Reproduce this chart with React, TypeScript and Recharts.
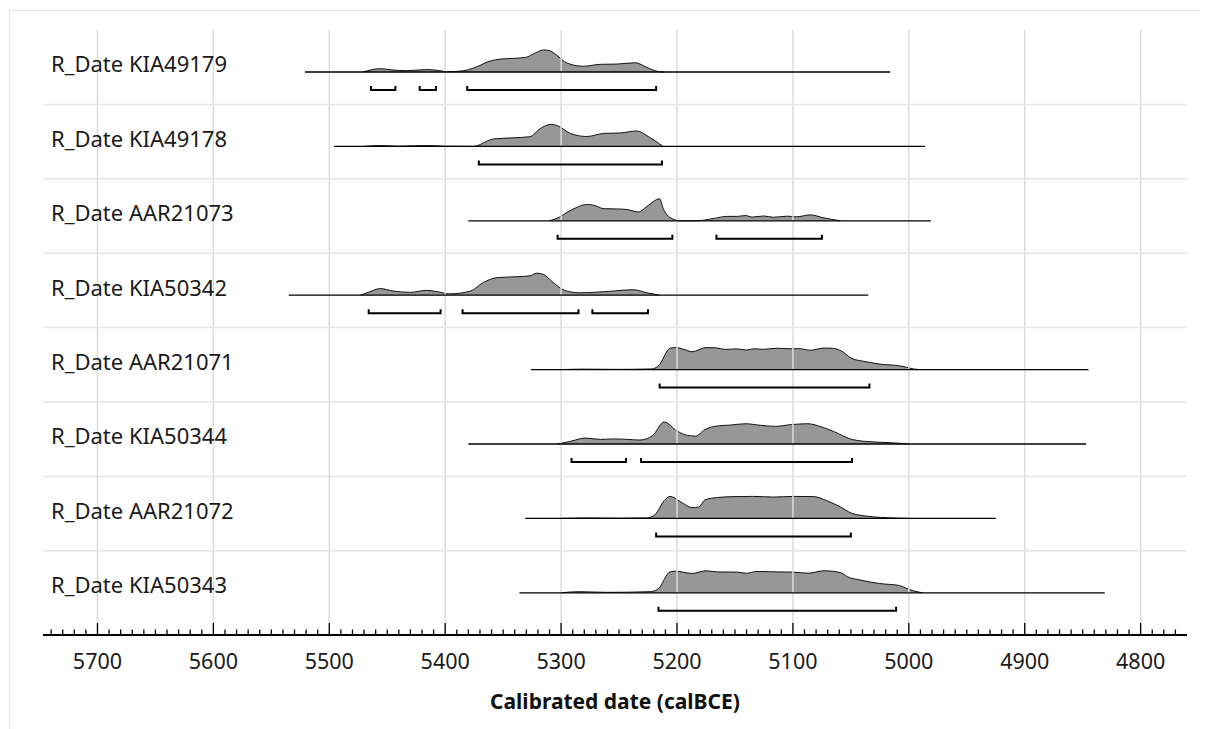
import { ComposedChart, Area, Line, XAxis, YAxis, ReferenceLine } from "recharts";

// Row labels, top to bottom
const ROW_LABELS = [
  "R_Date KIA49179",
  "R_Date KIA49178",
  "R_Date AAR21073",
  "R_Date KIA50342",
  "R_Date AAR21071",
  "R_Date KIA50344",
  "R_Date AAR21072",
  "R_Date KIA50343",
];

// Probability curves: [calBCE, relative density]
const KIA49179: [number, number][] = [
  [5471, 0], [5456, 0.15], [5445, 0.09], [5433, 0.06], [5416, 0.11], [5407, 0.08],
  [5398, 0.01], [5384, 0.06], [5376, 0.17], [5361, 0.5], [5352, 0.59], [5341, 0.62],
  [5330, 0.67], [5324, 0.82], [5315, 1.0], [5310, 0.97], [5304, 0.77], [5295, 0.41],
  [5281, 0.26], [5266, 0.35], [5252, 0.36], [5236, 0.42], [5226, 0.21], [5216, 0.02], [5211, 0],
];
const KIA49178: [number, number][] = [
  [5470, 0], [5456, 0.04], [5440, 0.01], [5416, 0.04], [5400, 0.01], [5376, 0],
  [5358, 0.34], [5341, 0.39], [5327, 0.44], [5318, 0.81], [5309, 1.0], [5304, 0.96],
  [5292, 0.59], [5278, 0.45], [5263, 0.59], [5249, 0.61], [5235, 0.7], [5223, 0.39], [5212, 0],
];
const AAR21073: [number, number][] = [
  [5310, 0], [5301, 0.18], [5295, 0.38], [5286, 0.62], [5278, 0.74], [5272, 0.71],
  [5263, 0.55], [5252, 0.54], [5243, 0.51], [5233, 0.4], [5226, 0.65], [5215, 1.0],
  [5212, 0.57], [5206, 0.15], [5197, 0], [5183, 0], [5168, 0.11], [5157, 0.2],
  [5148, 0.2], [5141, 0.24], [5135, 0.17], [5125, 0.22], [5117, 0.16], [5105, 0.21],
  [5097, 0.18], [5085, 0.27], [5074, 0.14], [5059, 0],
];
const KIA50342: [number, number][] = [
  [5473, 0], [5465, 0.16], [5456, 0.3], [5445, 0.19], [5430, 0.13], [5416, 0.22],
  [5407, 0.16], [5396, 0.06], [5378, 0.19], [5367, 0.58], [5355, 0.8], [5338, 0.84],
  [5327, 0.88], [5321, 1.0], [5315, 0.94], [5307, 0.58], [5297, 0.22], [5284, 0.11],
  [5272, 0.13], [5255, 0.19], [5238, 0.25], [5226, 0.11], [5215, 0],
];
const AAR21071: [number, number][] = [
  [5300, 0], [5281, 0.02], [5250, 0.01], [5222, 0.03], [5216, 0.17], [5206, 0.97],
  [5201, 1.0], [5194, 0.92], [5187, 0.81], [5175, 1.0], [5167, 0.99], [5158, 0.92],
  [5148, 0.94], [5140, 0.89], [5133, 0.95], [5126, 0.92], [5114, 0.97], [5104, 0.95],
  [5094, 0.95], [5085, 0.88], [5073, 0.98], [5066, 0.97], [5058, 0.84], [5049, 0.5],
  [5039, 0.38], [5025, 0.25], [5008, 0.17], [5003, 0.12], [4996, 0.03], [4991, 0],
];
const KIA50344: [number, number][] = [
  [5303, 0], [5292, 0.12], [5279, 0.27], [5266, 0.21], [5255, 0.23], [5243, 0.21],
  [5232, 0.18], [5221, 0.39], [5211, 1.0], [5200, 0.59], [5191, 0.39], [5184, 0.36],
  [5176, 0.65], [5165, 0.82], [5154, 0.86], [5141, 0.92], [5128, 0.85], [5115, 0.8],
  [5102, 0.88], [5087, 0.92], [5075, 0.77], [5064, 0.55], [5051, 0.24], [5038, 0.12],
  [5016, 0.06], [4999, 0],
];
const AAR21072: [number, number][] = [
  [5300, 0], [5278, 0.02], [5250, 0.01], [5226, 0.02], [5219, 0.17], [5211, 0.81],
  [5206, 1.0], [5197, 0.76], [5187, 0.49], [5181, 0.52], [5176, 0.84], [5165, 0.95],
  [5151, 0.99], [5134, 1.0], [5117, 0.97], [5099, 1.0], [5082, 0.99], [5071, 0.81],
  [5059, 0.52], [5050, 0.25], [5036, 0.1], [5013, 0.02], [5001, 0],
];
const KIA50343: [number, number][] = [
  [5300, 0], [5285, 0.05], [5260, 0.02], [5223, 0.05], [5216, 0.19], [5206, 0.95],
  [5201, 0.98], [5187, 0.88], [5175, 1.0], [5165, 0.95], [5148, 0.94], [5140, 0.89],
  [5131, 0.97], [5114, 0.95], [5100, 0.94], [5087, 0.89], [5073, 1.0], [5059, 0.92],
  [5053, 0.73], [5042, 0.58], [5025, 0.42], [5008, 0.33], [5003, 0.22], [4996, 0.09], [4988, 0],
];

// Extent of each plotted curve (from, to), calBCE
const SPANS: [number, number][] = [
  [5521, 5016], [5496, 4986], [5380, 4981], [5535, 5035],
  [5326, 4845], [5380, 4847], [5331, 4925], [5336, 4831],
];

// 95.4% ranges under each curve
const RANGES: [number, number][][] = [
  [[5464, 5443], [5422, 5408], [5381, 5218]],
  [[5371, 5213]],
  [[5303, 5204], [5166, 5075]],
  [[5466, 5404], [5385, 5285], [5273, 5225]],
  [[5215, 5034]],
  [[5291, 5244], [5231, 5049]],
  [[5218, 5050]],
  [[5216, 5011]],
];

const CURVES = [KIA49179, KIA49178, AAR21073, KIA50342, AAR21071, KIA50344, AAR21072, KIA50343];

const MAJOR_YEARS = [5700, 5600, 5500, 5400, 5300, 5200, 5100, 5000, 4900, 4800];
const X_DOMAIN: [number, number] = [4760, 5747];

const FONT = "'Noto Sans', 'Open Sans', sans-serif";

// layout, in row units (1 = one row height)
const ROW_PX = 74.4;
const PLOT_H = 605;
const SPAN_ROWS = PLOT_H / ROW_PX;
const BASE_OFF = 42 / ROW_PX;
const PEAK = 22 / ROW_PX;
const BRACKET_OFF = 18 / ROW_PX;
const BRACKET_TICK = 4 / ROW_PX;
const LABEL_OFF = 34.5 / ROW_PX;

const minorYears: number[] = [];
for (let yr = 4770; yr <= 5740; yr += 10) minorYears.push(yr);

const baseOf = (k: number) => SPAN_ROWS - k - BASE_OFF;

function YearTick(props: any) {
  const { x, y, payload } = props;
  const major = payload.value % 100 === 0;
  return (
    <g>
      <line x1={x} x2={x} y1={y} y2={y - (major ? 12 : 5.5)} stroke="#000" strokeWidth={1.3} />
      {major && (
        <text x={x} y={y + 34} textAnchor="middle" fontSize={21.5} fontFamily={FONT} fill="#1a1a1a">
          {payload.value}
        </text>
      )}
    </g>
  );
}

export default function App() {
  return (
    <div
      style={{
        marginLeft: 1,
        marginTop: 2,
        width: 1199,
        height: 740,
        borderTop: "1px solid #e2e2e2",
        borderLeft: "1px solid #e2e2e2",
      }}
    >
      <style>{"body{overflow:hidden}"}</style>
      <ComposedChart width={1198} height={708} margin={{ top: 19, right: 21, left: 33, bottom: 0 }}>
        <XAxis
          type="number"
          dataKey="year"
          domain={X_DOMAIN}
          allowDataOverflow
          reversed
          ticks={minorYears}
          interval={0}
          tickLine={false}
          tickSize={0}
          tickMargin={0}
          height={84}
          axisLine={{ stroke: "#000", strokeWidth: 2 }}
          tick={<YearTick />}
          label={{
            value: "Calibrated date (calBCE)",
            position: "insideBottom",
            offset: 10,
            fill: "#111",
            fontSize: 21,
            fontWeight: 700,
            fontFamily: FONT,
          }}
        />
        <YAxis type="number" domain={[0, SPAN_ROWS]} allowDataOverflow hide />

        {MAJOR_YEARS.map((yr) => (
          <ReferenceLine key={"gx" + yr} x={yr} stroke="#dcdcdc" strokeWidth={1.5} />
        ))}
        {ROW_LABELS.slice(1).map((_, i) => (
          <ReferenceLine key={"gy" + i} y={SPAN_ROWS - (i + 1)} stroke="#e6e6e6" strokeWidth={1.5} />
        ))}
        {/* row names, left-aligned inside the plot */}
        {ROW_LABELS.map((name, k) => (
          <ReferenceLine
            key={"lab" + k}
            y={SPAN_ROWS - k - LABEL_OFF}
            stroke="none"
            label={{
              value: name,
              position: "insideLeft",
              offset: 8,
              fill: "#1a1a1a",
              fontSize: 22,
              fontFamily: FONT,
            }}
          />
        ))}

        {CURVES.map((curve, k) => (
          <Area
            key={"a" + k}
            data={curve.map(([year, d]) => ({ year, v: baseOf(k) + d * PEAK }))}
            dataKey="v"
            type="monotone"
            baseValue={baseOf(k)}
            stroke="#111"
            strokeWidth={1}
            fill="#979797"
            fillOpacity={1}
            dot={false}
            activeDot={false}
            isAnimationActive={false}
          />
        ))}

        {SPANS.map(([from, to], k) => (
          <Line
            key={"b" + k}
            data={[
              { year: from, v: baseOf(k) },
              { year: to, v: baseOf(k) },
            ]}
            dataKey="v"
            type="linear"
            stroke="#000"
            strokeWidth={1.3}
            dot={false}
            activeDot={false}
            isAnimationActive={false}
          />
        ))}

        {RANGES.flatMap((ranges, k) =>
          ranges.map(([from, to], j) => {
            const yb = baseOf(k) - BRACKET_OFF;
            return (
              <Line
                key={"r" + k + "-" + j}
                data={[
                  { year: from, v: yb + BRACKET_TICK },
                  { year: from, v: yb },
                  { year: to, v: yb },
                  { year: to, v: yb + BRACKET_TICK },
                ]}
                dataKey="v"
                type="linear"
                stroke="#000"
                strokeWidth={2}
                dot={false}
                activeDot={false}
                isAnimationActive={false}
              />
            );
          })
        )}
      </ComposedChart>
    </div>
  );
}
